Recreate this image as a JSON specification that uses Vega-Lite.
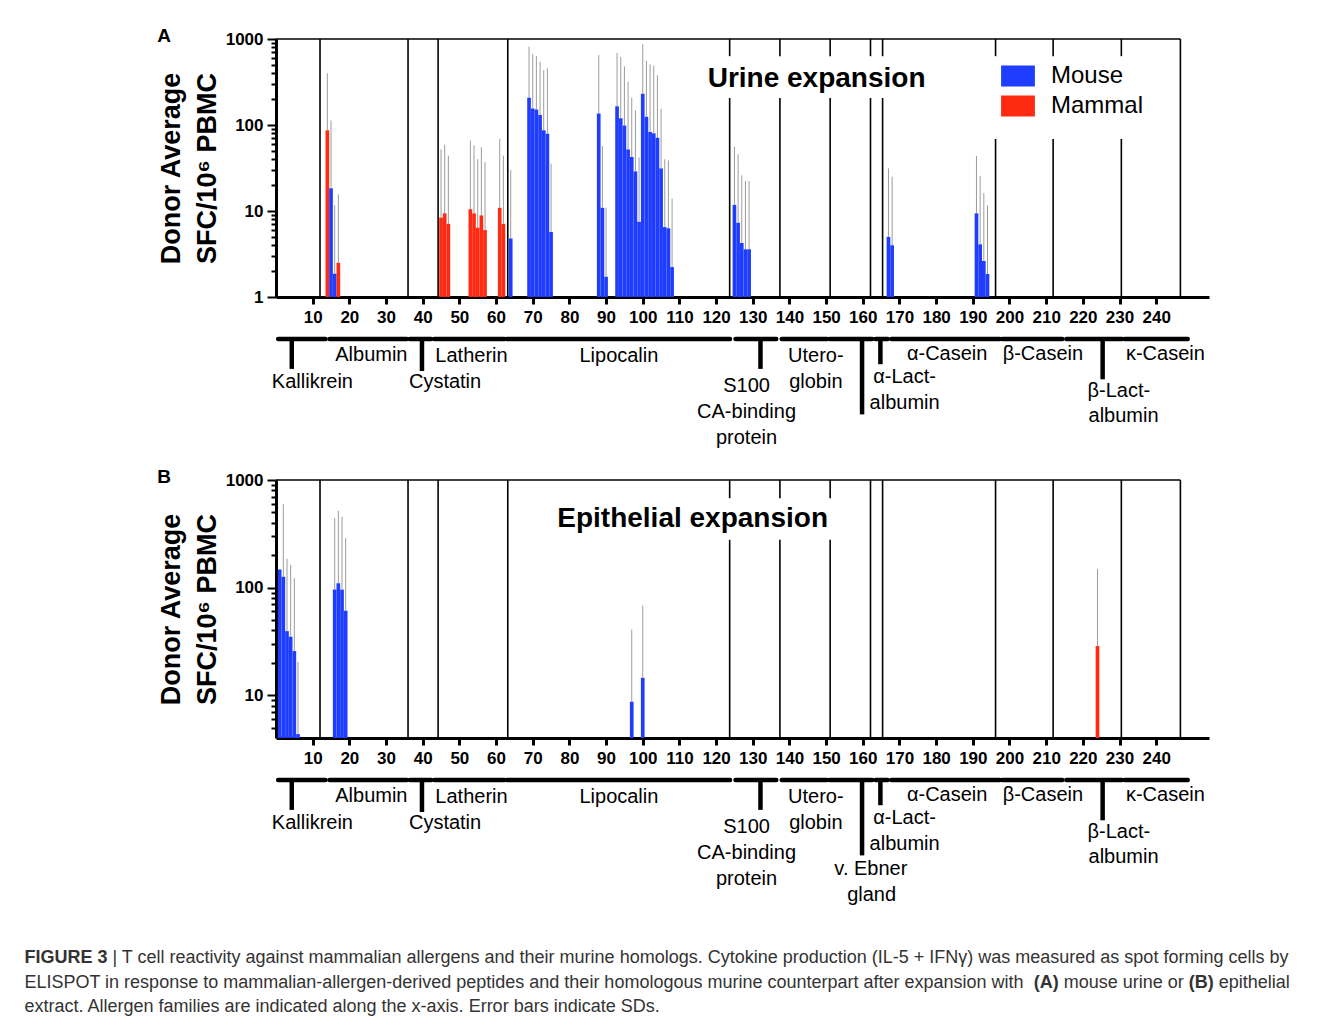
{
  "$schema": "https://vega.github.io/schema/vega-lite/v6.json",
  "padding": {"left": 24, "top": 26, "right": 5, "bottom": 5},
  "background": "white",
  "spacing": 18,
  "config": {
    "view": {"stroke": "transparent"},
    "font": "Liberation Sans",
    "axis": {"labelFont": "Liberation Sans", "titleFont": "Liberation Sans", "grid": false, "domainColor": "black", "tickColor": "black", "labelColor": "black", "titleColor": "black"},
    "text": {"font": "Liberation Sans"},
    "title": {"font": "Liberation Sans"},
    "legend": {"labelFont": "Liberation Sans"}
  },
  "datasets": {
    "barsA": [
      {"pos": 14, "value": 86.7, "err": 399, "species": "Mammal"},
      {"pos": 15, "value": 18.4, "err": 113, "species": "Mouse"},
      {"pos": 16, "value": 1.87, "err": 11.7, "species": "Mouse"},
      {"pos": 17, "value": 2.5, "err": 15.6, "species": "Mammal"},
      {"pos": 45, "value": 8.4, "err": 52, "species": "Mammal"},
      {"pos": 46, "value": 9.4, "err": 59, "species": "Mammal"},
      {"pos": 47, "value": 7.1, "err": 44, "species": "Mammal"},
      {"pos": 53, "value": 10.5, "err": 66, "species": "Mammal"},
      {"pos": 54, "value": 9.4, "err": 58, "species": "Mammal"},
      {"pos": 55, "value": 6.4, "err": 40, "species": "Mammal"},
      {"pos": 56, "value": 8.9, "err": 55, "species": "Mammal"},
      {"pos": 57, "value": 6.0, "err": 37, "species": "Mammal"},
      {"pos": 61, "value": 10.9, "err": 69, "species": "Mammal"},
      {"pos": 62, "value": 7.1, "err": 44, "species": "Mammal"},
      {"pos": 64, "value": 4.8, "err": 30, "species": "Mouse"},
      {"pos": 69, "value": 208, "err": 815, "species": "Mouse"},
      {"pos": 70, "value": 156, "err": 664, "species": "Mouse"},
      {"pos": 71, "value": 151, "err": 634, "species": "Mouse"},
      {"pos": 72, "value": 131, "err": 545, "species": "Mouse"},
      {"pos": 73, "value": 87, "err": 433, "species": "Mouse"},
      {"pos": 74, "value": 79, "err": 456, "species": "Mouse"},
      {"pos": 75, "value": 5.7, "err": 35.5, "species": "Mouse"},
      {"pos": 88, "value": 136, "err": 652, "species": "Mouse"},
      {"pos": 89, "value": 10.9, "err": 57, "species": "Mouse"},
      {"pos": 90, "value": 1.72, "err": 10.9, "species": "Mouse"},
      {"pos": 93, "value": 165, "err": 687, "species": "Mouse"},
      {"pos": 94, "value": 120, "err": 618, "species": "Mouse"},
      {"pos": 95, "value": 99, "err": 481, "species": "Mouse"},
      {"pos": 96, "value": 52, "err": 319, "species": "Mouse"},
      {"pos": 97, "value": 42.5, "err": 208, "species": "Mouse"},
      {"pos": 98, "value": 28.9, "err": 148, "species": "Mouse"},
      {"pos": 99, "value": 7.5, "err": 42, "species": "Mouse"},
      {"pos": 100, "value": 231, "err": 867, "species": "Mouse"},
      {"pos": 101, "value": 125, "err": 555, "species": "Mouse"},
      {"pos": 102, "value": 83, "err": 508, "species": "Mouse"},
      {"pos": 103, "value": 80, "err": 490, "species": "Mouse"},
      {"pos": 104, "value": 71, "err": 378, "species": "Mouse"},
      {"pos": 105, "value": 31.3, "err": 155, "species": "Mouse"},
      {"pos": 106, "value": 6.5, "err": 40, "species": "Mouse"},
      {"pos": 107, "value": 6.3, "err": 38.8, "species": "Mouse"},
      {"pos": 108, "value": 2.23, "err": 13.9, "species": "Mouse"},
      {"pos": 125, "value": 11.8, "err": 56, "species": "Mouse"},
      {"pos": 126, "value": 7.3, "err": 45.6, "species": "Mouse"},
      {"pos": 127, "value": 4.25, "err": 26, "species": "Mouse"},
      {"pos": 128, "value": 3.59, "err": 22.3, "species": "Mouse"},
      {"pos": 129, "value": 3.59, "err": 22.3, "species": "Mouse"},
      {"pos": 167, "value": 5.0, "err": 31.3, "species": "Mouse"},
      {"pos": 168, "value": 4.0, "err": 25, "species": "Mouse"},
      {"pos": 191, "value": 9.4, "err": 43.6, "species": "Mouse"},
      {"pos": 192, "value": 4.1, "err": 25.5, "species": "Mouse"},
      {"pos": 193, "value": 2.62, "err": 16.2, "species": "Mouse"},
      {"pos": 194, "value": 1.85, "err": 11.7, "species": "Mouse"}
    ],
    "barsB": [
      {"pos": 1, "value": 147, "species": "Mouse"},
      {"pos": 2, "value": 126, "err": 596, "species": "Mouse"},
      {"pos": 3, "value": 39.4, "err": 186, "species": "Mouse"},
      {"pos": 4, "value": 34.9, "err": 163, "species": "Mouse"},
      {"pos": 5, "value": 25.7, "err": 122, "species": "Mouse"},
      {"pos": 6, "value": 4.35, "err": 20.4, "species": "Mouse"},
      {"pos": 16, "value": 95.8, "err": 442, "species": "Mouse"},
      {"pos": 17, "value": 110, "err": 516, "species": "Mouse"},
      {"pos": 18, "value": 95.8, "err": 454, "species": "Mouse"},
      {"pos": 19, "value": 61, "err": 287, "species": "Mouse"},
      {"pos": 97, "value": 8.7, "err": 40.8, "species": "Mouse"},
      {"pos": 100, "value": 14.5, "err": 68, "species": "Mouse"},
      {"pos": 224, "value": 28.6, "err": 149, "species": "Mammal"}
    ],
    "sepsA": [
      {"x": 12, "lo": 1, "hi": 1000},
      {"x": 36, "lo": 1, "hi": 1000},
      {"x": 44.2, "lo": 1, "hi": 1000},
      {"x": 63.2, "lo": 1, "hi": 1000},
      {"x": 123.7, "lo": 1, "hi": 206}, {"x": 123.7, "lo": 631, "hi": 1000},
      {"x": 137.4, "lo": 1, "hi": 206}, {"x": 137.4, "lo": 631, "hi": 1000},
      {"x": 151.1, "lo": 1, "hi": 206}, {"x": 151.1, "lo": 631, "hi": 1000},
      {"x": 162.1, "lo": 1, "hi": 206}, {"x": 162.1, "lo": 631, "hi": 1000},
      {"x": 165.4, "lo": 1, "hi": 206}, {"x": 165.4, "lo": 631, "hi": 1000},
      {"x": 196.2, "lo": 1, "hi": 68.7}, {"x": 196.2, "lo": 631, "hi": 1000},
      {"x": 211.9, "lo": 1, "hi": 68.7}, {"x": 211.9, "lo": 631, "hi": 1000},
      {"x": 230.5, "lo": 1, "hi": 68.7}, {"x": 230.5, "lo": 631, "hi": 1000},
      {"x": 246.6, "lo": 1, "hi": 1000}
    ],
    "sepsB": [
      {"x": 12, "lo": 4, "hi": 1000},
      {"x": 36, "lo": 4, "hi": 1000},
      {"x": 44.2, "lo": 4, "hi": 1000},
      {"x": 63.2, "lo": 4, "hi": 1000},
      {"x": 123.7, "lo": 4, "hi": 278}, {"x": 123.7, "lo": 677, "hi": 1000},
      {"x": 137.4, "lo": 4, "hi": 278}, {"x": 137.4, "lo": 677, "hi": 1000},
      {"x": 151.1, "lo": 4, "hi": 278}, {"x": 151.1, "lo": 677, "hi": 1000},
      {"x": 162.1, "lo": 4, "hi": 1000},
      {"x": 165.4, "lo": 4, "hi": 1000},
      {"x": 196.2, "lo": 4, "hi": 1000},
      {"x": 211.9, "lo": 4, "hi": 1000},
      {"x": 230.5, "lo": 4, "hi": 1000},
      {"x": 246.6, "lo": 4, "hi": 1000}
    ],
    "frame": [{"x0": 0, "x1": 246.6, "top": 1000}],
    "titleA": [{"label": "Urine expansion", "x": 147.4, "y": 347}],
    "titleB": [{"label": "Epithelial expansion", "x": 113.6, "y": 435}],
    "brackets": [
      {"family": "Kallikrein", "start": 0.6, "end": 13.5, "level": 0},
      {"family": "Albumin", "start": 14.6, "end": 35.7, "level": 0},
      {"family": "Cystatin", "start": 36.5, "end": 42.3, "level": 0},
      {"family": "Latherin", "start": 43.2, "end": 62.3, "level": 0},
      {"family": "Lipocalin", "start": 62.9, "end": 123.8, "level": 0},
      {"family": "S100", "start": 125.3, "end": 136.4, "level": 0},
      {"family": "Uteroglobin", "start": 137.9, "end": 150.3, "level": 0},
      {"family": "v. Ebner gland", "start": 151.0, "end": 162.6, "level": 0},
      {"family": "a-Lactalbumin", "start": 163.5, "end": 166.8, "level": 0},
      {"family": "a-Casein", "start": 167.8, "end": 197.4, "level": 0},
      {"family": "b-Casein", "start": 198.0, "end": 214.4, "level": 0},
      {"family": "b-Lactalbumin", "start": 215.5, "end": 230.7, "level": 0},
      {"family": "k-Casein", "start": 231.4, "end": 248.6, "level": 0}
    ],
    "stems": [
      {"x": 4.3, "top": 0, "depth": 1.15},
      {"x": 39.8, "top": 0, "depth": 1.23},
      {"x": 132.1, "top": 0, "depth": 1.15},
      {"x": 159.8, "top": 0, "depth": 2.9},
      {"x": 164.8, "top": 0, "depth": 0.97},
      {"x": 225.4, "top": 0, "depth": 1.55}
    ],
    "labels": [
      {"label": "Kallikrein", "x": 9.93, "row": 1.65, "onlyB": false},
      {"label": "Albumin", "x": 26.0, "row": 0.62, "onlyB": false},
      {"label": "Cystatin", "x": 46.1, "row": 1.65, "onlyB": false},
      {"label": "Latherin", "x": 53.3, "row": 0.65, "onlyB": false},
      {"label": "Lipocalin", "x": 93.5, "row": 0.65, "onlyB": false},
      {"label": "S100", "x": 128.3, "row": 1.81, "onlyB": false},
      {"label": "CA-binding", "x": 128.3, "row": 2.81, "onlyB": false},
      {"label": "protein", "x": 128.3, "row": 3.79, "onlyB": false},
      {"label": "Utero-", "x": 147.2, "row": 0.65, "onlyB": false},
      {"label": "globin", "x": 147.2, "row": 1.67, "onlyB": false},
      {"label": "α-Lact-", "x": 171.4, "row": 1.48, "onlyB": false},
      {"label": "albumin", "x": 171.4, "row": 2.45, "onlyB": false},
      {"label": "α-Casein", "x": 183.0, "row": 0.59, "onlyB": false},
      {"label": "β-Casein", "x": 209.1, "row": 0.59, "onlyB": false},
      {"label": "β-Lact-", "x": 229.8, "row": 2.0, "onlyB": false},
      {"label": "albumin", "x": 231.1, "row": 2.96, "onlyB": false},
      {"label": "κ-Casein", "x": 242.5, "row": 0.59, "onlyB": false},
      {"label": "v. Ebner", "x": 162.2, "row": 3.44, "onlyB": true},
      {"label": "gland", "x": 162.4, "row": 4.42, "onlyB": true}
    ],
    "caption": [{"c": 1}]
  },
  "vconcat": [
    {
      "width": 933,
      "height": 258,
      "title": {"text": "A", "anchor": "start", "frame": "bounds", "fontSize": 19, "fontWeight": "bold", "color": "black", "offset": -16},
      "resolve": {"scale": {"y": "independent"}},
      "layer": [
        {
          "layer": [
            {
              "data": {"name": "barsA"},
              "mark": {"type": "bar", "width": 3.67},
              "encoding": {
                "x": {"field": "pos", "type": "quantitative", "scale": {"domain": [0, 254.4], "nice": false, "zero": false, "padding": 0},
                  "axis": {"values": [10,20,30,40,50,60,70,80,90,100,110,120,130,140,150,160,170,180,190,200,210,220,230,240], "title": null, "labelFontSize": 17, "labelFontWeight": "bold", "tickSize": 7, "tickWidth": 3, "domainWidth": 3, "labelPadding": 5, "labelFlush": false, "labelOverlap": false}},
                "y": {"field": "value", "type": "quantitative", "stack": null, "scale": {"type": "log", "domain": [1, 1000], "nice": false},
                  "axis": {"values": [1,2,3,4,5,6,7,8,9,10,20,30,40,50,60,70,80,90,100,200,300,400,500,600,700,800,900,1000],
                    "labelExpr": "datum.value == 1 || datum.value == 10 || datum.value == 100 || datum.value == 1000 ? format(datum.value, 'd') : ''",
                    "title": ["Donor Average", "SFC/10⁶ PBMC"], "titleFontSize": 27, "titleFontWeight": "bold", "titleLineHeight": 36, "titlePadding": 4,
                    "labelFontSize": 17, "labelFontWeight": "bold", "labelPadding": 4, "labelOverlap": false, "tickWidth": 2, "domainWidth": 3,
                    "tickSize": {"condition": {"test": "datum.value == 1 || datum.value == 10 || datum.value == 100 || datum.value == 1000", "value": 9}, "value": 5}}},
                "y2": {"value": "height"},
                "color": {"field": "species", "type": "nominal", "scale": {"domain": ["Mouse", "Mammal"], "range": ["#1f3dff", "#ff2a12"]},
                  "legend": {"orient": "none", "legendX": 729, "legendY": 24, "title": null, "symbolType": "M-1.3,-0.8L1.3,-0.8L1.3,0.8L-1.3,0.8Z", "symbolSize": 676, "symbolStrokeWidth": 0, "symbolOpacity": 1, "labelFontSize": 24, "labelOffset": 20, "rowPadding": 5, "padding": 0, "labelColor": "black"}}
              }
            },
            {
              "data": {"name": "barsA"},
              "transform": [{"filter": "isValid(datum.err)"}],
              "mark": {"type": "rule", "color": "#9c9c9c", "strokeWidth": 1},
              "encoding": {
                "x": {"field": "pos", "type": "quantitative"},
                "y": {"field": "value", "type": "quantitative"},
                "y2": {"field": "err"}
              }
            },
            {
              "data": {"name": "sepsA"},
              "mark": {"type": "rule", "color": "black", "strokeWidth": 1.6},
              "encoding": {
                "x": {"field": "x", "type": "quantitative"},
                "y": {"field": "lo", "type": "quantitative"},
                "y2": {"field": "hi"}
              }
            },
            {
              "data": {"name": "frame"},
              "mark": {"type": "rule", "color": "black", "strokeWidth": 1.6},
              "encoding": {
                "x": {"field": "x0", "type": "quantitative"},
                "x2": {"field": "x1"},
                "y": {"field": "top", "type": "quantitative"}
              }
            },
            {
              "data": {"name": "titleA"},
              "mark": {"type": "text", "fontSize": 28, "fontWeight": "bold", "color": "black", "baseline": "middle"},
              "encoding": {
                "x": {"field": "x", "type": "quantitative"},
                "y": {"field": "y", "type": "quantitative"},
                "text": {"field": "label"}
              }
            }
          ]
        },
        {
          "layer": [
            {
              "data": {"name": "brackets"},
              "mark": {"type": "rule", "color": "black", "strokeWidth": 4.5, "strokeCap": "round"},
              "encoding": {
                "x": {"field": "start", "type": "quantitative"},
                "x2": {"field": "end"},
                "y": {"field": "level", "type": "quantitative", "scale": {"domain": [0, 5], "range": [300, 430]}, "axis": null}
              }
            },
            {
              "data": {"name": "stems"},
              "mark": {"type": "rule", "color": "black", "strokeWidth": 4.5},
              "encoding": {
                "x": {"field": "x", "type": "quantitative"},
                "y": {"field": "top", "type": "quantitative", "axis": null},
                "y2": {"field": "depth"}
              }
            },
            {
              "data": {"name": "labels"},
              "transform": [{"filter": "!datum.onlyB"}],
              "mark": {"type": "text", "fontSize": 20, "color": "black", "baseline": "middle"},
              "encoding": {
                "x": {"field": "x", "type": "quantitative"},
                "y": {"field": "row", "type": "quantitative", "axis": null},
                "text": {"field": "label"}
              }
            }
          ]
        }
      ]
    },
    {
      "width": 933,
      "height": 258,
      "title": {"text": "B", "anchor": "start", "frame": "bounds", "fontSize": 19, "fontWeight": "bold", "color": "black", "offset": -16},
      "resolve": {"scale": {"y": "independent"}},
      "layer": [
        {
          "layer": [
            {
              "data": {"name": "barsB"},
              "mark": {"type": "bar", "width": 3.67},
              "encoding": {
                "x": {"field": "pos", "type": "quantitative", "scale": {"domain": [0, 254.4], "nice": false, "zero": false, "padding": 0},
                  "axis": {"values": [10,20,30,40,50,60,70,80,90,100,110,120,130,140,150,160,170,180,190,200,210,220,230,240], "title": null, "labelFontSize": 17, "labelFontWeight": "bold", "tickSize": 7, "tickWidth": 3, "domainWidth": 3, "labelPadding": 5, "labelFlush": false, "labelOverlap": false}},
                "y": {"field": "value", "type": "quantitative", "stack": null, "scale": {"type": "log", "domain": [4, 1000], "nice": false},
                  "axis": {"values": [5,6,7,8,9,10,20,30,40,50,60,70,80,90,100,200,300,400,500,600,700,800,900,1000],
                    "labelExpr": "datum.value == 10 || datum.value == 100 || datum.value == 1000 ? format(datum.value, 'd') : ''",
                    "title": ["Donor Average", "SFC/10⁶ PBMC"], "titleFontSize": 27, "titleFontWeight": "bold", "titleLineHeight": 36, "titlePadding": 4,
                    "labelFontSize": 17, "labelFontWeight": "bold", "labelPadding": 4, "labelOverlap": false, "tickWidth": 2, "domainWidth": 3,
                    "tickSize": {"condition": {"test": "datum.value == 10 || datum.value == 100 || datum.value == 1000", "value": 9}, "value": 5}}},
                "y2": {"value": "height"},
                "color": {"field": "species", "type": "nominal", "scale": {"domain": ["Mouse", "Mammal"], "range": ["#2b3cff", "#ff2a12"]}, "legend": null}
              }
            },
            {
              "data": {"name": "barsB"},
              "transform": [{"filter": "isValid(datum.err)"}],
              "mark": {"type": "rule", "color": "#9c9c9c", "strokeWidth": 1},
              "encoding": {
                "x": {"field": "pos", "type": "quantitative"},
                "y": {"field": "value", "type": "quantitative"},
                "y2": {"field": "err"}
              }
            },
            {
              "data": {"name": "sepsB"},
              "mark": {"type": "rule", "color": "black", "strokeWidth": 1.6},
              "encoding": {
                "x": {"field": "x", "type": "quantitative"},
                "y": {"field": "lo", "type": "quantitative"},
                "y2": {"field": "hi"}
              }
            },
            {
              "data": {"name": "frame"},
              "mark": {"type": "rule", "color": "black", "strokeWidth": 1.6},
              "encoding": {
                "x": {"field": "x0", "type": "quantitative"},
                "x2": {"field": "x1"},
                "y": {"field": "top", "type": "quantitative"}
              }
            },
            {
              "data": {"name": "titleB"},
              "mark": {"type": "text", "fontSize": 28, "fontWeight": "bold", "color": "black", "baseline": "middle"},
              "encoding": {
                "x": {"field": "x", "type": "quantitative"},
                "y": {"field": "y", "type": "quantitative"},
                "text": {"field": "label"}
              }
            }
          ]
        },
        {
          "layer": [
            {
              "data": {"name": "brackets"},
              "mark": {"type": "rule", "color": "black", "strokeWidth": 4.5, "strokeCap": "round"},
              "encoding": {
                "x": {"field": "start", "type": "quantitative"},
                "x2": {"field": "end"},
                "y": {"field": "level", "type": "quantitative", "scale": {"domain": [0, 5], "range": [300, 430]}, "axis": null}
              }
            },
            {
              "data": {"name": "stems"},
              "mark": {"type": "rule", "color": "black", "strokeWidth": 4.5},
              "encoding": {
                "x": {"field": "x", "type": "quantitative"},
                "y": {"field": "top", "type": "quantitative", "axis": null},
                "y2": {"field": "depth"}
              }
            },
            {
              "data": {"name": "labels"},
              "mark": {"type": "text", "fontSize": 20, "color": "black", "baseline": "middle"},
              "encoding": {
                "x": {"field": "x", "type": "quantitative"},
                "y": {"field": "row", "type": "quantitative", "axis": null},
                "text": {"field": "label"}
              }
            }
          ]
        }
      ]
    },
    {
      "width": 10,
      "height": 80,
      "data": {"name": "caption"},
      "layer": [
        {"mark": {"type": "text", "fontSize": 18, "fontWeight": "bold", "color": "#333", "align": "left", "baseline": "middle", "x": -251.6, "y": 34, "text": "FIGURE 3"}},
        {"mark": {"type": "text", "fontSize": 18, "color": "#333", "align": "left", "baseline": "middle", "x": -163.6, "y": 34, "text": "| T cell reactivity against mammalian allergens and their murine homologs. Cytokine production (IL-5 + IFNγ) was measured as spot forming cells by"}},
        {"mark": {"type": "text", "fontSize": 18, "color": "#333", "align": "left", "baseline": "middle", "x": -251.6, "y": 59, "text": "ELISPOT in response to mammalian-allergen-derived peptides and their homologous murine counterpart after expansion with"}},
        {"mark": {"type": "text", "fontSize": 18, "fontWeight": "bold", "color": "#333", "align": "left", "baseline": "middle", "x": 757.8, "y": 59, "text": "(A)"}},
        {"mark": {"type": "text", "fontSize": 18, "color": "#333", "align": "left", "baseline": "middle", "x": 787.8, "y": 59, "text": "mouse urine or"}},
        {"mark": {"type": "text", "fontSize": 18, "fontWeight": "bold", "color": "#333", "align": "left", "baseline": "middle", "x": 912.8, "y": 59, "text": "(B)"}},
        {"mark": {"type": "text", "fontSize": 18, "color": "#333", "align": "left", "baseline": "middle", "x": 942.8, "y": 59, "text": "epithelial"}},
        {"mark": {"type": "text", "fontSize": 18, "color": "#333", "align": "left", "baseline": "middle", "x": -251.6, "y": 83, "text": "extract. Allergen families are indicated along the x-axis. Error bars indicate SDs."}}
      ]
    }
  ]
}
